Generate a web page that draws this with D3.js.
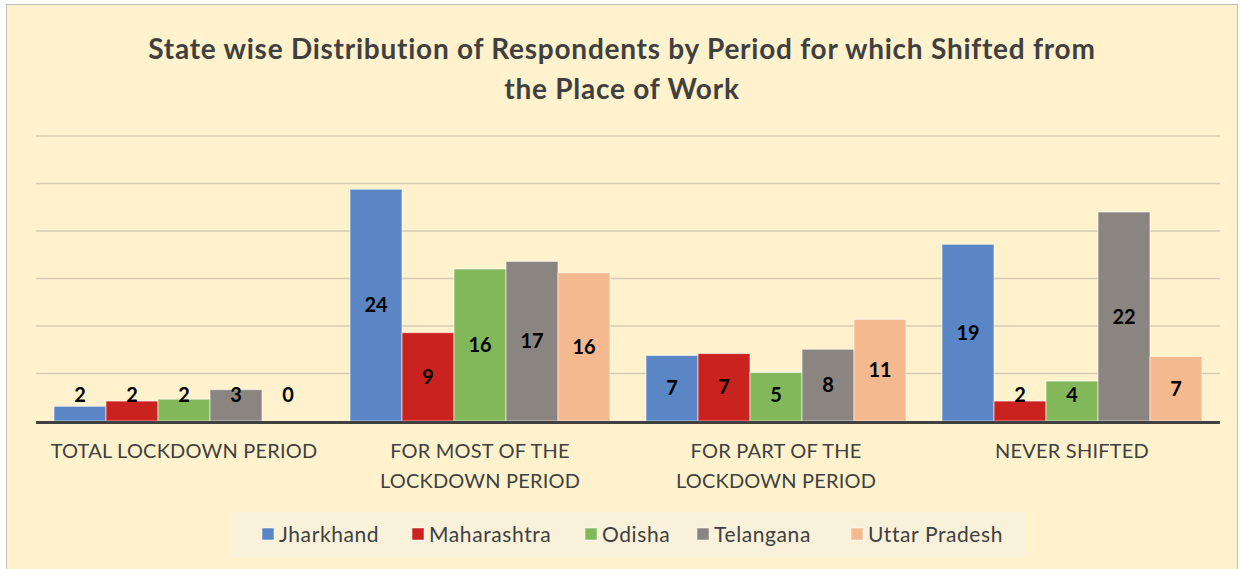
<!DOCTYPE html>
<html>
<head>
<meta charset="utf-8">
<script src="https://cdn.jsdelivr.net/npm/d3@7"></script>
<style>
  body { margin: 0; background: #fff; }
  text { font-family: Lato, "Open Sans", sans-serif; }
</style>
</head>
<body>
<div id="chart"></div>
<script>
// chart data
let categories = [
  ["TOTAL LOCKDOWN PERIOD"],
  ["FOR MOST OF THE", "LOCKDOWN PERIOD"],
  ["FOR PART OF THE", "LOCKDOWN PERIOD"],
  ["NEVER SHIFTED"]
]
let states = ["Jharkhand", "Maharashtra", "Odisha", "Telangana", "Uttar Pradesh"]
let colors = ["#5B86C5", "#C9221F", "#82B75A", "#8A8580", "#F4B98E"]

// one array per state, in category order
let jharkhand   = [1.55, 24.4, 6.9, 18.6]
let maharashtra = [2.1, 9.3, 7.1, 2.1]
let odisha      = [2.3, 16.0, 5.1, 4.2]
let telangana   = [3.3, 16.8, 7.55, 22.0]
let uttarPradesh = [0, 15.6, 10.7, 6.8]

let yTicks = [0, 5, 10, 15, 20, 25, 30]

let series = [jharkhand, maharashtra, odisha, telangana, uttarPradesh]

let width = 1244, height = 569
let plot = { left: 36, right: 1220, top: 136, bottom: 421 }

let svg = d3.select("#chart").append("svg")
  .attr("width", width)
  .attr("height", height)

// chart area background
svg.append("rect")
  .attr("x", 6.5).attr("y", 4.5)
  .attr("width", 1231).attr("height", 580)
  .attr("fill", "#FFF2CC")
  .attr("stroke", "#BFBFBF")

// title
let title = svg.append("text")
  .attr("text-anchor", "middle")
  .attr("fill", "#404040")
  .style("font-weight", "bold")
  .style("font-size", "28px")
  .style("letter-spacing", "0.75px")
title.append("tspan").attr("x", 622).attr("y", 59).text("State wise Distribution of Respondents by Period for which Shifted from")
title.append("tspan").attr("x", 622).attr("y", 99).text("the Place of Work")

let idx = categories.map(function(d, i) { return i })

let x0 = d3.scaleBand().domain(idx).range([plot.left, plot.right]).padding(0)
let x1 = d3.scaleBand().domain(states).range([18, x0.bandwidth() - 18]).padding(0)
let y = d3.scaleLinear().domain([0, 30]).range([plot.bottom, plot.top])

// gridlines
svg.append("g")
  .selectAll("line")
  .data(yTicks.slice(1))
  .enter().append("line")
  .attr("x1", plot.left).attr("x2", plot.right)
  .attr("y1", function(d) { return y(d) }).attr("y2", function(d) { return y(d) })
  .attr("stroke", "#D5CCB2")
  .attr("stroke-width", 1.3)

// bars
let groups = svg.append("g")
  .selectAll("g")
  .data(idx)
  .enter().append("g")
  .attr("transform", function(d) { return "translate(" + x0(d) + ",0)" })

groups.selectAll("rect")
  .data(function(c) { return states.map(function(s, j) { return { state: s, j: j, value: series[j][c] } }) })
  .enter().append("rect")
  .attr("x", function(d) { return x1(d.state) })
  .attr("width", x1.bandwidth())
  .attr("y", function(d) { return y(d.value) })
  .attr("height", function(d) { return y(0) - y(d.value) })
  .attr("fill", function(d) { return colors[d.j] })
  .attr("stroke", "#FFFFFF")
  .attr("stroke-opacity", 0.6)
  .attr("stroke-width", 1)

// data labels, centred in bar but kept above the base
groups.selectAll("text.lbl")
  .data(function(c) { return states.map(function(s, j) { return { state: s, j: j, value: series[j][c] } }) })
  .enter().append("text")
  .attr("class", "lbl")
  .attr("x", function(d) { return x1(d.state) + x1.bandwidth() / 2 })
  .attr("y", function(d) { return Math.min((y(d.value) + y(0)) / 2, 395) })
  .attr("dy", "0.35em")
  .attr("text-anchor", "middle")
  .style("font-weight", "bold")
  .style("font-size", "20px")
  .attr("fill", "#000")
  .text(function(d) { return Math.round(d.value) })

// baseline axis
svg.append("line")
  .attr("x1", plot.left).attr("x2", plot.right)
  .attr("y1", y(0) + 1.5).attr("y2", y(0) + 1.5)
  .attr("stroke", "#404040")
  .attr("stroke-width", 3)

// category labels
let cat = svg.append("g")
  .selectAll("text")
  .data(idx)
  .enter().append("text")
  .attr("text-anchor", "middle")
  .attr("fill", "#404040")
  .style("font-size", "20px")
  .style("letter-spacing", "0.2px")
cat.selectAll("tspan")
  .data(function(i) { return categories[i].map(function(t) { return { t: t, i: i } }) })
  .enter().append("tspan")
  .attr("x", function(d) { return x0(d.i) + x0.bandwidth() / 2 })
  .attr("y", function(d, k) { return 458 + k * 30 })
  .text(function(d) { return d.t })

// legend
svg.append("rect")
  .attr("x", 231).attr("y", 512)
  .attr("width", 794).attr("height", 45)
  .attr("fill", "#F9F1DA")

let legendX = [262, 412, 585, 697, 851]
let legend = svg.append("g")
  .selectAll("g")
  .data(states)
  .enter().append("g")
  .attr("transform", function(d, i) { return "translate(" + legendX[i] + ",528)" })

legend.append("rect")
  .attr("width", 12).attr("height", 12)
  .attr("fill", function(d, i) { return colors[i] })
  .attr("stroke", "#FFFFFF")
  .attr("stroke-opacity", 0.5)

legend.append("text")
  .attr("x", 17)
  .attr("y", 14)
  .attr("fill", "#404040")
  .style("font-size", "21px")
  .style("letter-spacing", "0.6px")
  .text(function(d) { return d })
</script>
</body>
</html>
